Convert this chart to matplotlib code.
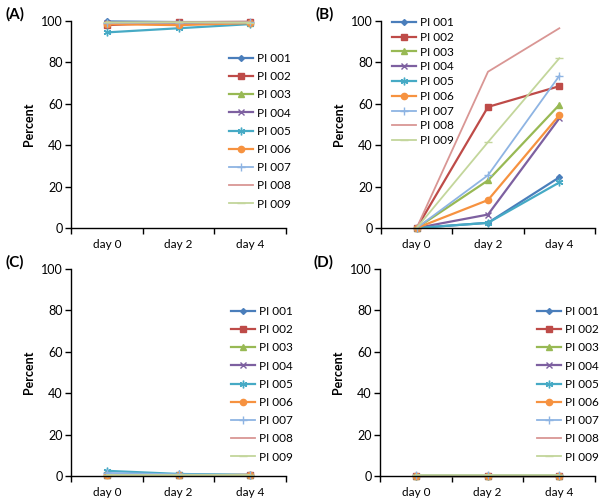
import matplotlib
matplotlib.use("Agg")
import matplotlib.pyplot as plt
from matplotlib.ticker import FixedLocator

plt.rcParams['font.family'] = ['Lato', 'DejaVu Sans']

days = ["day 0", "day 2", "day 4"]
series = ["PI 001", "PI 002", "PI 003", "PI 004", "PI 005", "PI 006", "PI 007", "PI 008", "PI 009"]
colors = ["#4A7EBB", "#BE4B48", "#98B954", "#7D60A0", "#46AAC5", "#F69240", "#8EB4E3", "#D99694", "#C3D69B"]
markers = ["D", "s", "^", "x", (6, 2, 0), "o", "+", "None", "_"]
msizes = [3.0, 4.5, 4.5, 4.5, 5.5, 4.5, 5.5, 0, 5.5]

panel_A = [
    [99.8, 99.5, 99.5],
    [98.0, 99.4, 99.6],
    [99.0, 99.0, 99.2],
    [99.0, 99.0, 99.0],
    [94.5, 96.5, 98.5],
    [98.5, 98.0, 99.0],
    [99.0, 99.2, 99.3],
    [99.2, 99.3, 99.4],
    [99.3, 99.4, 99.2],
]
panel_B = [
    [0, 2.5, 24.5],
    [0, 58.5, 68.5],
    [0, 23.0, 59.5],
    [0, 6.5, 53.0],
    [0, 2.5, 22.0],
    [0, 13.5, 54.5],
    [0, 25.5, 73.5],
    [0, 75.5, 96.5],
    [0, 41.5, 82.0],
]
panel_C = [
    [0.5, 0.5, 0.5],
    [0.3, 0.3, 0.5],
    [0.3, 0.3, 0.3],
    [0.3, 0.3, 0.3],
    [2.5, 1.0, 0.5],
    [0.3, 0.3, 0.5],
    [1.5, 0.8, 0.4],
    [0.3, 0.3, 0.3],
    [0.3, 0.3, 0.3],
]
panel_D = [
    [0.2, 0.2, 0.2],
    [0.2, 0.2, 0.2],
    [0.2, 0.2, 0.2],
    [0.2, 0.2, 0.2],
    [0.2, 0.2, 0.2],
    [0.2, 0.2, 0.2],
    [0.3, 0.3, 0.3],
    [0.2, 0.2, 0.2],
    [0.3, 0.3, 0.3],
]
yticks = [0, 20, 40, 60, 80, 100]

W, H = 602, 504
fig = plt.figure(figsize=(W / 100, H / 100), dpi=100)

panels = [
    ("(A)", panel_A, (71, 286, 21, 228), (229, 53), 0.61),
    ("(B)", panel_B, (381, 595, 21, 228), (392, 17), 0.32),
    ("(C)", panel_C, (71, 286, 269, 476), (231, 306), 0.61),
    ("(D)", panel_D, (380, 595, 269, 476), (537, 306), 0.61),
]

for label, data, (l, r, t, b), (lx, ly), lsp in panels:
    ax = fig.add_axes([l / W, 1 - b / H, (r - l) / W, (b - t) / H])
    x = list(range(len(days)))
    for i, (name, vals, c, m, ms) in enumerate(zip(series, data, colors, markers, msizes)):
        lw = 1.6 if i < 6 else 1.3
        ax.plot(x, vals, color=c, marker=m, markersize=ms, linewidth=lw,
                markeredgecolor=c, markeredgewidth=1.0, label=name, clip_on=False)
    ax.set_xlim(-0.5, 2.5)
    ax.set_ylim(0, 100)
    ax.set_yticks(yticks)
    ax.set_xticks(x)
    ax.set_xticklabels(days)
    ax.xaxis.set_minor_locator(FixedLocator([-0.5, 0.5, 1.5, 2.5]))
    ax.tick_params(axis='x', which='major', length=0, pad=8, labelsize=8.5)
    ax.tick_params(axis='x', which='minor', length=4, width=1, direction='out')
    ax.tick_params(axis='y', length=4, width=1, direction='out', labelsize=9, pad=2)
    for s in ['top', 'right']:
        ax.spines[s].set_visible(False)
    for s in ['left', 'bottom']:
        ax.spines[s].set_linewidth(1.0)
    ax.set_ylabel("Percent", fontsize=9, fontweight='bold', labelpad=4)
    ax.legend(loc='upper left', bbox_to_anchor=(lx / W, 1 - ly / H),
              bbox_transform=fig.transFigure, frameon=False, fontsize=8.5,
              borderpad=0, borderaxespad=0, handlelength=2.0, handletextpad=0.4,
              labelspacing=lsp)
    fig.text((l - 66) / W, 1 - (t - 7) / H, label, fontsize=11, fontweight='bold',
             ha='left', va='center')

fig.savefig("out.png", dpi=100)
